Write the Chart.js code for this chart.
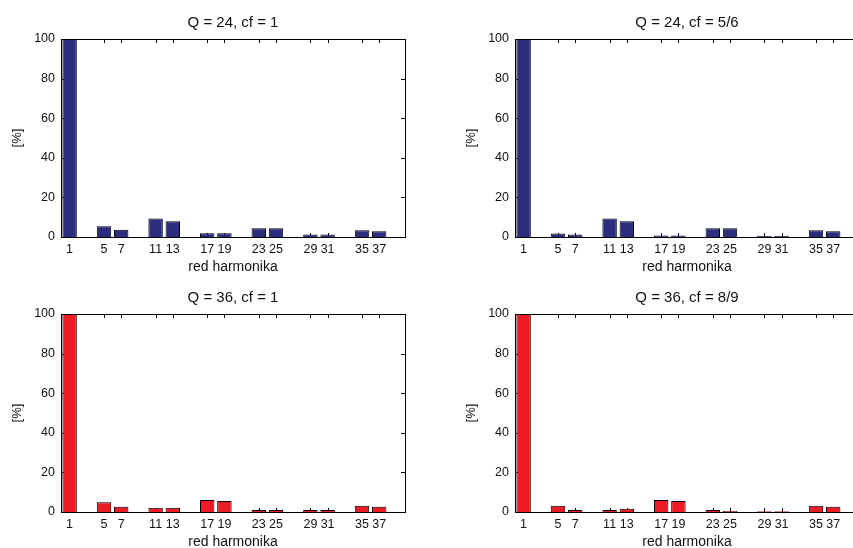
<!DOCTYPE html>
<html>
<head>
<meta charset="utf-8">
<script src="https://cdn.jsdelivr.net/npm/chart.js@4.4.1/dist/chart.umd.min.js"></script>
<style>
  html, body { margin: 0; padding: 0; background: #fff; overflow: hidden; width: 853px; height: 548px; }
  .cell { position: absolute; width: 430px; height: 280px; }
</style>
</head>
<body>
<div class="cell" style="left:0px;top:0px"><canvas id="g1" width="430" height="280"></canvas></div>
<div class="cell" style="left:454px;top:0px"><canvas id="g2" width="430" height="280"></canvas></div>
<div class="cell" style="left:0px;top:275px"><canvas id="g3" width="430" height="280"></canvas></div>
<div class="cell" style="left:454px;top:275px"><canvas id="g4" width="430" height="280"></canvas></div>
<script>
// red harmonika (harmonic orders)
var harmonike = [1, 5, 7, 11, 13, 17, 19, 23, 25, 29, 31, 35, 37];
var yTicks = [0, 20, 40, 60, 80, 100];

// amplitude in % of the fundamental
var q24cf1  = [100, 5.4, 3.7, 9.3, 7.9, 1.9, 1.9, 4.4, 4.4, 1.2, 1.2, 3.4, 2.9];
var q24cf56 = [100, 1.8, 1.2, 9.3, 7.9, 0.7, 0.7, 4.4, 4.4, 0.6, 0.6, 3.4, 2.9];
var q36cf1  = [100, 4.9, 2.7, 2.2, 2.2, 6.1, 5.6, 1.0, 1.0, 1.0, 1.0, 3.2, 2.7];
var q36cf89 = [100, 3.2, 1.0, 1.0, 1.7, 6.1, 5.6, 1.0, 0.5, 0.4, 0.4, 3.2, 2.7];

var plava = '#2b2d7f';
var crvena = '#ed1c24';
var font = "Arial, 'Liberation Sans', Helvetica, sans-serif";

// inward tick marks (under the bars), then box + title on top, matlab style
var okvir = {
    id: 'okvir',
    beforeDatasetsDraw: function (chart) {
        var ctx = chart.ctx;
        var a = chart.chartArea;
        var sx = chart.scales.x;
        var sy = chart.scales.y;
        ctx.save();
        ctx.strokeStyle = '#000';
        ctx.lineWidth = 1;
        ctx.beginPath();
        harmonike.forEach(function (h) {
            var px = Math.round(sx.getPixelForValue(h)) + 0.5;
            ctx.moveTo(px, a.bottom); ctx.lineTo(px, a.bottom - 4);
            ctx.moveTo(px, a.top); ctx.lineTo(px, a.top + 4);
        });
        yTicks.forEach(function (v) {
            var py = Math.round(sy.getPixelForValue(v)) + 0.5;
            ctx.moveTo(a.left, py); ctx.lineTo(a.left + 4, py);
            ctx.moveTo(a.right, py); ctx.lineTo(a.right - 4, py);
        });
        ctx.stroke();
        ctx.restore();
    },
    afterDatasetsDraw: function (chart) {
        var ctx = chart.ctx;
        var a = chart.chartArea;
        ctx.save();
        ctx.strokeStyle = '#000';
        ctx.lineWidth = 1;
        ctx.strokeRect(Math.round(a.left) + 0.5, Math.round(a.top) + 0.5,
            Math.round(a.right - a.left), Math.round(a.bottom - a.top));
        var t = chart.options.plugins.okvir.naslov;
        ctx.fillStyle = '#111';
        ctx.font = '15px ' + font;
        ctx.textAlign = 'center';
        ctx.textBaseline = 'middle';
        ctx.fillText(t, (a.left + a.right) / 2, a.top - 16);
        ctx.restore();
    }
};

function crtaj(id, naslov, vrijednosti, boja) {
    var podaci = [];
    for (var i = 0; i < harmonike.length; i++) {
        podaci.push({ x: harmonike[i], y: vrijednosti[i] });
    }
    new Chart(document.getElementById(id), {
        type: 'bar',
        data: {
            datasets: [{
                data: podaci,
                backgroundColor: boja,
                borderColor: '#000',
                borderWidth: 1,
                borderSkipped: 'bottom',
                barPercentage: 1.0,
                categoryPercentage: 0.84
            }]
        },
        options: {
            responsive: false,
            animation: false,
            devicePixelRatio: 1,
            layout: { padding: { left: 0, right: 25, top: 39, bottom: 0 } },
            plugins: {
                legend: { display: false },
                tooltip: { enabled: false },
                okvir: { naslov: naslov }
            },
            scales: {
                x: {
                    type: 'linear',
                    min: 0,
                    max: 40,
                    offset: false,
                    grid: { display: false, drawTicks: false },
                    border: { display: false },
                    afterBuildTicks: function (scale) {
                        scale.ticks = harmonike.map(function (h) { return { value: h }; });
                    },
                    afterFit: function (scale) { scale.height = 43; },
                    ticks: {
                        autoSkip: false,
                        maxRotation: 0,
                        padding: 5,
                        color: '#111',
                        font: { family: font, size: 12.5 },
                        callback: function (v) { return v; }
                    },
                    title: {
                        display: true,
                        text: 'red harmonika',
                        color: '#111',
                        font: { family: font, size: 14 },
                        padding: { top: 0, bottom: 4 }
                    }
                },
                y: {
                    min: 0,
                    max: 100,
                    grid: { display: false, drawTicks: false },
                    border: { display: false },
                    afterBuildTicks: function (scale) {
                        scale.ticks = yTicks.map(function (v) { return { value: v }; });
                    },
                    afterFit: function (scale) { scale.width = 61; },
                    ticks: {
                        padding: 6,
                        color: '#111',
                        font: { family: font, size: 12.5 }
                    },
                    title: {
                        display: true,
                        text: '[%]',
                        color: '#111',
                        font: { family: font, size: 13 },
                        padding: { top: 10, bottom: 0 }
                    }
                }
            }
        },
        plugins: [okvir]
    });
}

crtaj('g1', 'Q = 24, cf = 1', q24cf1, plava);
crtaj('g2', 'Q = 24, cf = 5/6', q24cf56, plava);
crtaj('g3', 'Q = 36, cf = 1', q36cf1, crvena);
crtaj('g4', 'Q = 36, cf = 8/9', q36cf89, crvena);
</script>
</body>
</html>
